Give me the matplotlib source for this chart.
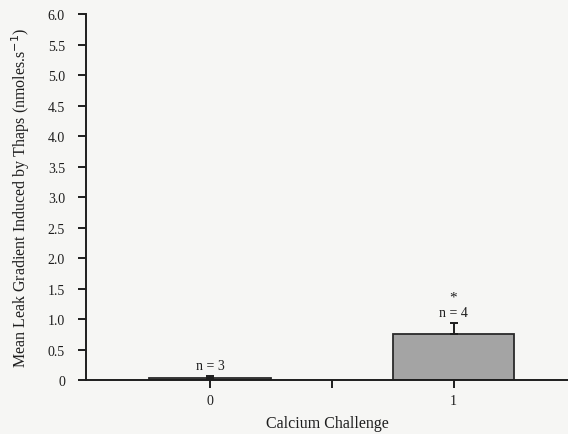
import numpy as np
import matplotlib.pyplot as plt

# data
categories = [0, 1]
means = [0.03, 0.76]
errors = [0.04, 0.17]
n_labels = ["n = 3", "n = 4"]
signif = ["", "*"]
yticks = [0, 0.5, 1.0, 1.5, 2.0, 2.5, 3.0, 3.5, 4.0, 4.5, 5.0, 5.5, 6.0]

plt.rcParams['font.family'] = ['Liberation Serif', 'DejaVu Serif']
INK = '#1e1e1e'

fig = plt.figure(figsize=(5.68, 4.35), dpi=100, facecolor='#f6f6f4')
ax = fig.add_axes([0.151, 0.124, 0.849, 0.8415], facecolor='#f6f6f4')

ax.bar(categories, means, width=0.5, color='#a4a4a4', edgecolor='#2a2a2a', linewidth=1.3)
ax.errorbar(categories, means, yerr=[[0, 0], errors], fmt='none', ecolor=INK,
            elinewidth=1.4, capsize=3, capthick=1.4)

for x, m, e, lab, s in zip(categories, means, errors, n_labels, signif):
    ax.text(x, m + e + 0.17, lab, ha='center', va='center', fontsize=10, color=INK)
    if s:
        ax.text(x, m + e + 0.43, s, ha='center', va='center', fontsize=11, color=INK)

ax.set_xlim(-0.51, 1.47)
ax.set_ylim(0, 6)
ax.set_xticks([0, 0.5, 1])
ax.set_xticklabels(["0", "", "1"])
ax.set_yticks(yticks)
ax.set_yticklabels(["0" if v == 0 else "%.1f" % v for v in yticks])
ax.tick_params(axis='both', labelsize=10, colors=INK, length=6, width=1.4)
ax.tick_params(axis='y', pad=9)
ax.tick_params(axis='x', pad=4)

for side in ['top', 'right']:
    ax.spines[side].set_visible(False)
for side in ['left', 'bottom']:
    ax.spines[side].set_linewidth(1.4)
    ax.spines[side].set_color(INK)

ax.set_xlabel("Calcium Challenge", fontsize=11.5, color=INK, labelpad=6)
ax.set_ylabel(r"Mean Leak Gradient Induced by Thaps (nmoles.s$^{-1}$)", fontsize=11.5,
              color=INK, labelpad=11)

fig.savefig("out.png", dpi=100, facecolor=fig.get_facecolor())
plt.close()
